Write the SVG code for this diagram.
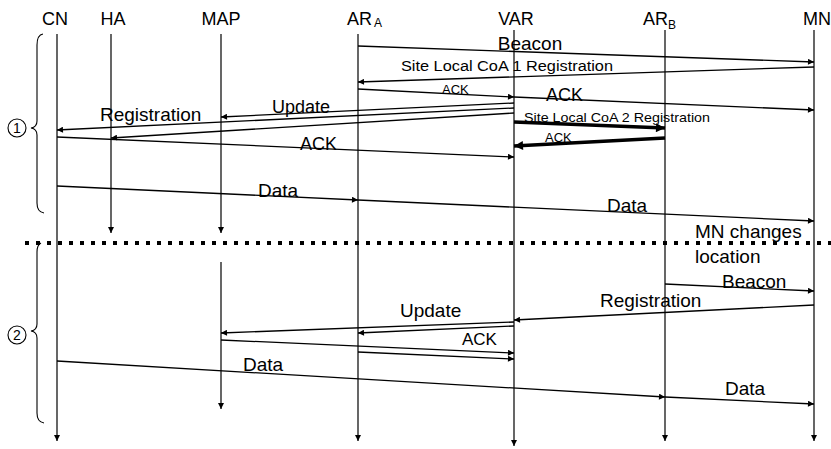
<svg xmlns="http://www.w3.org/2000/svg" width="831" height="449" viewBox="0 0 831 449">
<style>
text{font-family:"Liberation Sans",Arial,sans-serif;fill:#000}
.h{font-size:18px}
.lb{font-size:19px}
.ll{stroke:#000;stroke-width:1.2;fill:none;marker-end:url(#ah)}
.m{stroke:#000;stroke-width:1.3;fill:none;marker-end:url(#ah)}
.t{stroke:#000;stroke-width:3.5;fill:none;marker-end:url(#ahb)}
.br{stroke:#000;stroke-width:1.1;fill:none}
</style>
<defs>
<marker id="ah" viewBox="0 0 10 10" refX="10" refY="5" markerWidth="8" markerHeight="6" orient="auto" markerUnits="userSpaceOnUse"><path d="M0,0 L10,5 L0,10 z"/></marker>
<marker id="ahb" viewBox="0 0 10 10" refX="10" refY="5" markerWidth="12" markerHeight="9" orient="auto" markerUnits="userSpaceOnUse"><path d="M0,0 L10,5 L0,10 z"/></marker>
</defs>
<rect width="831" height="449" fill="#fff"/>
<g id="CN"><text class="h" x="55" y="25" text-anchor="middle">CN</text><line class="ll" x1="57" y1="34" x2="57" y2="441"/></g>
<g id="HA"><text class="h" x="113" y="25" text-anchor="middle">HA</text><line class="ll" x1="111" y1="34" x2="111" y2="233"/></g>
<g id="MAP"><text class="h" x="221" y="25" text-anchor="middle">MAP</text><line class="ll" x1="221" y1="34" x2="221" y2="233"/><line class="ll" x1="221" y1="262" x2="221" y2="409"/></g>
<g id="ARA"><text class="h" x="347" y="25">AR</text><text x="374" y="27" font-size="12">A</text><line class="ll" x1="358" y1="34" x2="358" y2="441"/></g>
<g id="VAR"><text class="h" x="516" y="25" text-anchor="middle">VAR</text><line class="ll" x1="514" y1="30" x2="514" y2="446"/></g>
<g id="ARB"><text class="h" x="643" y="25">AR</text><text x="668" y="29" font-size="12">B</text><line class="ll" x1="665" y1="30" x2="665" y2="441"/></g>
<g id="MN"><text class="h" x="803" y="25">MN</text><line class="ll" x1="814" y1="30" x2="814" y2="441"/></g>
<g id="phase1"><path class="br" d="M43,34 Q37,35 37,45 L37,121 Q37,127 31,128 Q37,129 37,135 L37,203 Q37,212 44,213"/><circle cx="17" cy="128" r="9" class="br"/><text x="17" y="133" font-size="14" text-anchor="middle">1</text></g>
<g id="phase2"><path class="br" d="M41,243 Q37,245 37,252 L37,324 Q37,330 31,331 Q37,332 37,338 L37,413 Q37,422 44,423"/><circle cx="17" cy="335" r="9" class="br"/><text x="17" y="340" font-size="14" text-anchor="middle">2</text></g>
<g id="separator"><line x1="25" y1="243" x2="831" y2="243" stroke="#000" stroke-width="4" stroke-dasharray="4 7"/></g>
<g id="connectors">
<line class="m" x1="358" y1="46" x2="814" y2="62"/>
<line class="m" x1="814" y1="67" x2="358" y2="82"/>
<line class="m" x1="358" y1="89" x2="514" y2="97"/>
<line class="m" x1="514" y1="97" x2="814" y2="110"/>
<line class="m" x1="514" y1="103" x2="221" y2="117"/>
<line class="m" x1="514" y1="108" x2="57" y2="130"/>
<line class="m" x1="514" y1="113" x2="111" y2="138"/>
<line class="t" x1="514" y1="122" x2="665" y2="128"/>
<line class="t" x1="665" y1="138" x2="514" y2="146"/>
<line class="m" x1="57" y1="137" x2="514" y2="157"/>
<line class="m" x1="57" y1="186" x2="358" y2="200"/>
<line class="m" x1="358" y1="200" x2="814" y2="221"/>
<line class="m" x1="665" y1="284" x2="814" y2="291"/>
<line class="m" x1="814" y1="305" x2="514" y2="320"/>
<line class="m" x1="514" y1="322" x2="221" y2="333"/>
<line class="m" x1="514" y1="326" x2="358" y2="333"/>
<line class="m" x1="221" y1="340" x2="514" y2="353"/>
<line class="m" x1="358" y1="352" x2="514" y2="359"/>
<line class="m" x1="57" y1="361" x2="665" y2="397"/>
<line class="m" x1="665" y1="397" x2="814" y2="404"/>
</g>
<g id="labels">
<text class="lb" x="530" y="50" text-anchor="middle">Beacon</text>
<text x="401" y="71" font-size="14" textLength="212" lengthAdjust="spacingAndGlyphs">Site Local CoA 1 Registration</text>
<text x="442" y="94" font-size="13">ACK</text>
<text x="546" y="101" font-size="18">ACK</text>
<text x="272" y="113" font-size="18">Update</text>
<text x="100" y="121" font-size="19">Registration</text>
<text x="300" y="150" font-size="18">ACK</text>
<text x="524" y="122" font-size="13.5" textLength="186" lengthAdjust="spacingAndGlyphs">Site Local CoA 2 Registration</text>
<text x="545" y="142" font-size="13">ACK</text>
<text class="lb" x="258" y="197">Data</text>
<text class="lb" x="607" y="212">Data</text>
<text class="lb" x="695" y="238">MN changes</text>
<text class="lb" x="695" y="263">location</text>
<text class="lb" x="722" y="288">Beacon</text>
<text class="lb" x="600" y="307">Registration</text>
<text class="lb" x="400" y="317">Update</text>
<text x="462" y="345" font-size="17">ACK</text>
<text class="lb" x="243" y="371">Data</text>
<text class="lb" x="725" y="395">Data</text>
</g>
</svg>
